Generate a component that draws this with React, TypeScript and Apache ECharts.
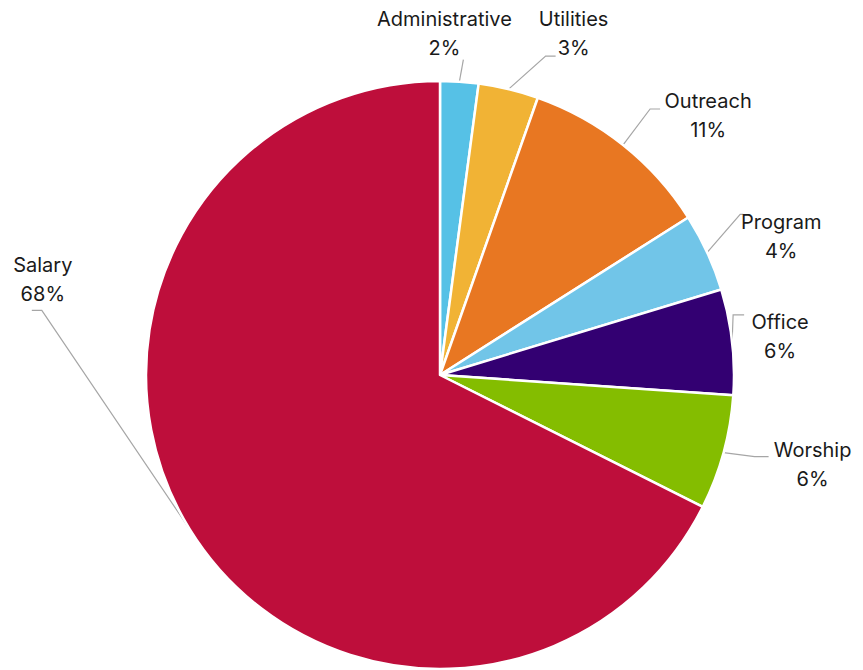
import React, { useEffect, useRef } from "react";
import * as echarts from "echarts";

// ---- data ----
const categories = ["Administrative", "Utilities", "Outreach", "Program", "Office", "Worship", "Salary"];
const values = [2.1, 3.3, 10.6, 4.3, 5.8, 6.3, 67.6];

// ---- styles ----
const colors = ["#56C1E6", "#F1B335", "#E87722", "#71C5E8", "#330072", "#84BD00", "#BE0E3B"];
const CENTER: [number, number] = [440, 375];
const RADIUS = 294;

// leader-line / label placement, relative to the point where the line leaves the slice
const labelPlacement = [
  { elbow: [4, -22], tail: 0, label: [-15, -48] },
  { elbow: [37, -33], tail: 10, label: [65, -56] },
  { elbow: [27, -36], tail: 10, label: [85, -29] },
  { elbow: [33, -38], tail: 3, label: [74, -16] },
  { elbow: [1, -27], tail: 11, label: [48, -5] },
  { elbow: [31, 4], tail: 14, label: [89, 12] },
  { elbow: [-148, -219], tail: -10, label: [-147, -250] },
];

function edgePoint(idx: number): [number, number] {
  const total = values.reduce((a, b) => a + b, 0);
  let before = 0;
  for (let i = 0; i < idx; i++) before += values[i];
  const mid = ((before + values[idx] / 2) / total) * Math.PI * 2;
  return [CENTER[0] + RADIUS * Math.sin(mid), CENTER[1] - RADIUS * Math.cos(mid)];
}

export default function App() {
  const ref = useRef<HTMLDivElement>(null);
  useEffect(() => {
    if (!ref.current) return;
    const chart = echarts.init(ref.current, undefined, { renderer: "svg" });
    chart.setOption({
      animation: false,
      backgroundColor: "#ffffff",
      series: [
        {
          type: "pie",
          center: CENTER,
          radius: RADIUS,
          startAngle: 90,
          clockwise: true,
          avoidLabelOverlap: false,
          data: categories.map((name, i) => ({
            name,
            value: values[i],
            itemStyle: { color: colors[i] },
          })),
          itemStyle: { borderColor: "#ffffff", borderWidth: 2.5 },
          label: {
            show: true,
            position: "outside",
            formatter: (p: any) => `${p.name}\n${Math.round(p.percent)}%`,
            fontFamily: "Inter",
            fontSize: 20,
            lineHeight: 29,
            color: "#1a1a1a",
          },
          labelLine: {
            show: true,
            length: 10,
            length2: 10,
            lineStyle: { color: "#A6A6A6", width: 1.2 },
          },
          labelLayout: (params: any) => {
            const i = params.dataIndex;
            const pl = labelPlacement[i];
            const p0 = edgePoint(i);
            const elbow = [p0[0] + pl.elbow[0], p0[1] + pl.elbow[1]];
            const end = [elbow[0] + pl.tail, elbow[1]];
            return {
              x: p0[0] + pl.label[0],
              y: p0[1] + pl.label[1],
              align: "center",
              verticalAlign: "middle",
              hideOverlap: false,
              labelLinePoints: [p0, elbow, end],
            };
          },
          emphasis: { disabled: true },
        },
      ],
    });
    return () => chart.dispose();
  }, []);
  return (
    <div
      ref={ref}
      style={{ position: "absolute", left: 0, top: 0, width: 863, height: 670, background: "#fff" }}
    />
  );
}
